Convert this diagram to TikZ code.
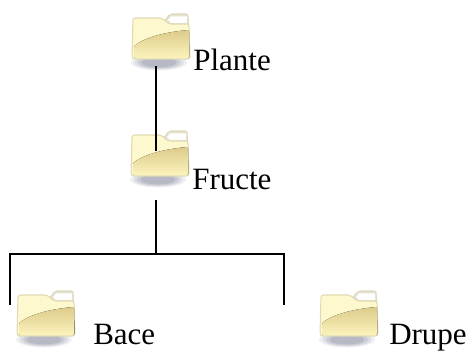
\documentclass[tikz,border=0pt]{standalone}
\usepackage{fontspec}
\setmainfont{Liberation Serif}
\usepackage{xcolor}
\usetikzlibrary{positioning,calc}
\definecolor{folderedge}{HTML}{E0DAB4}
\definecolor{folderlight}{HTML}{FBF3B8}
\definecolor{folderpale}{HTML}{FDF8CE}
\definecolor{folderdark}{HTML}{DDCB8A}
\definecolor{foldershade}{HTML}{FBF3BC}
\definecolor{foldertab}{HTML}{E4E2D8}
\definecolor{shadowgray}{HTML}{7F8498}

\tikzset{
    treeline/.style={line width=1.5pt, black},
    foldericon/.style={minimum width=43.5pt, minimum height=34.5pt, inner sep=0pt, outer sep=0pt},
    foldertext/.style={anchor=base west, inner sep=0pt, font=\fontsize{23.25}{26}\selectfont},
    folder/.pic={
        % shadow
        \foreach \r/\o in {1/0.12,0.88/0.16,0.76/0.2,0.62/0.25}
            \fill[shadowgray, opacity=\o] (27,49.5) ellipse ({28*\r} and {8*\r});
        % tab
        \filldraw[draw=folderedge, fill=foldertab, line width=0.8pt, rounded corners=1.5pt]
            (32,9) -- (38,1) -- (56,1) -- (57,22) -- (40,22) -- cycle;
        \fill[white] (36,7) -- (39,3.5) -- (55,3.5) -- (55,10) -- (39,10) -- cycle;
        % body
        \filldraw[draw=folderedge, line width=0.8pt, fill=folderpale, rounded corners=2pt]
            (1,5) -- (30,5) -- (37,11) -- (57,11) -- (58,46) -- (0,46) -- cycle;
        % swoosh
        \fill[top color=folderdark, bottom color=foldershade, rounded corners=1pt]
            (2,33) .. controls (14,24) and (34,19) .. (57,17) -- (57.5,45) -- (2,45) -- cycle;
    },
}

\begin{document}
\begin{tikzpicture}[x=0.75pt,y=-0.75pt]
    \useasboundingbox (0,0) rectangle (469,352);

    % Folders
    \node[foldericon] (plante) at (161,36) {};
    \node[foldericon] (fructe) at (160,153) {};
    \node[foldericon] (bace) at (46,313) {};
    \node[foldericon] (drupe) at (349,313) {};
    \pic at (plante.north west) {folder};
    \pic at (fructe.north west) {folder};
    \pic at (bace.north west) {folder};
    \pic at (drupe.north west) {folder};

    % Labels
    \node[foldertext] (planteLabel) at (193,70.5) {Plante};
    \node[foldertext] (fructeLabel) at (192,190) {Fructe};
    \node[foldertext] (baceLabel) at (93,345) {Bace};
    \node[foldertext] (drupeLabel) at (389,345) {Drupe};

    % Lines
    \coordinate (planteEnd) at (156,66);
    \coordinate (fructeEnd) at (156,151);
    \coordinate (stemTop) at (156,200);
    \coordinate (stemEnd) at (156,254.5);
    \coordinate (leftTop) at (10,254.5);
    \coordinate (leftEnd) at (10,305);
    \coordinate (rightTop) at (284,254.5);
    \coordinate (rightEnd) at (284,305);
    \draw[treeline] (planteEnd) -- (fructeEnd);
    \draw[treeline] (stemTop) -- (stemEnd);
    \draw[treeline] (leftEnd) -- (leftTop) -- (rightTop) -- (rightEnd);
\end{tikzpicture}
\end{document}
